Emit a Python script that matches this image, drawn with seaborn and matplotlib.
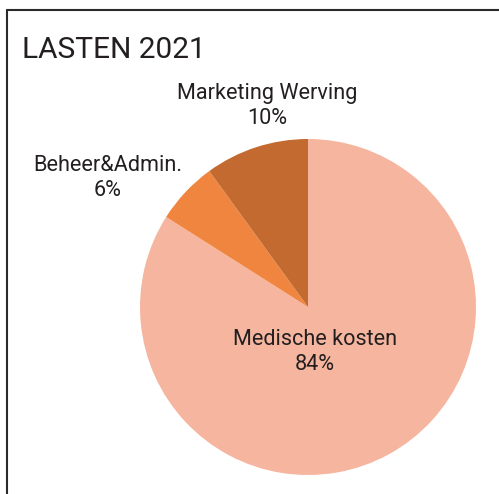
import matplotlib
matplotlib.use("Agg")
import matplotlib.pyplot as plt
from matplotlib.lines import Line2D
import seaborn as sns

# data
categories = ["Medische kosten", "Beheer&Admin.", "Marketing Werving"]
shares = [84, 6, 10]
colors = ["#F5B59E", "#F08540", "#C36A30"]

# label positions in pie units (radius = 1)
label_pos = [(0.042, -0.268), (-1.19, 0.765), (-0.244, 1.195)]

sns.set_theme(style="white")
plt.rcParams["font.family"] = ["Roboto", "DejaVu Sans"]

W, H = 499, 494
fig = plt.figure(figsize=(W / 100, H / 100), dpi=100)
fig.patch.set_facecolor("white")

# pie centre (308, 307) px, radius 168 px
cx, cy, r = 308, 307, 168
ax = fig.add_axes([(cx - r) / W, (H - cy - r) / H, 2 * r / W, 2 * r / H])
ax.pie(shares, colors=colors, startangle=90, counterclock=False,
       radius=1, wedgeprops=dict(linewidth=0))
ax.set_xlim(-1, 1)
ax.set_ylim(-1, 1)
ax.set_aspect("equal")
ax.axis("off")

txt = "#231F20"
for name, val, (x, y) in zip(categories, shares, label_pos):
    ax.text(x, y, f"{name}\n{val}%", ha="center", va="center",
            fontsize=15.6, color=txt, linespacing=1.25)

fig.text(22 / W, 1 - 58.5 / H, "LASTEN 2021", ha="left", va="baseline",
         fontsize=21.5, color=txt)

# frame: top and left rule only
fig.add_artist(Line2D([7 / W, 1], [1 - 10 / H, 1 - 10 / H],
                      transform=fig.transFigure, color="#2b2b2b", lw=1.5))
fig.add_artist(Line2D([7 / W, 7 / W], [0, 1 - 10 / H],
                      transform=fig.transFigure, color="#2b2b2b", lw=1.5))

fig.savefig("out.png", dpi=100)
